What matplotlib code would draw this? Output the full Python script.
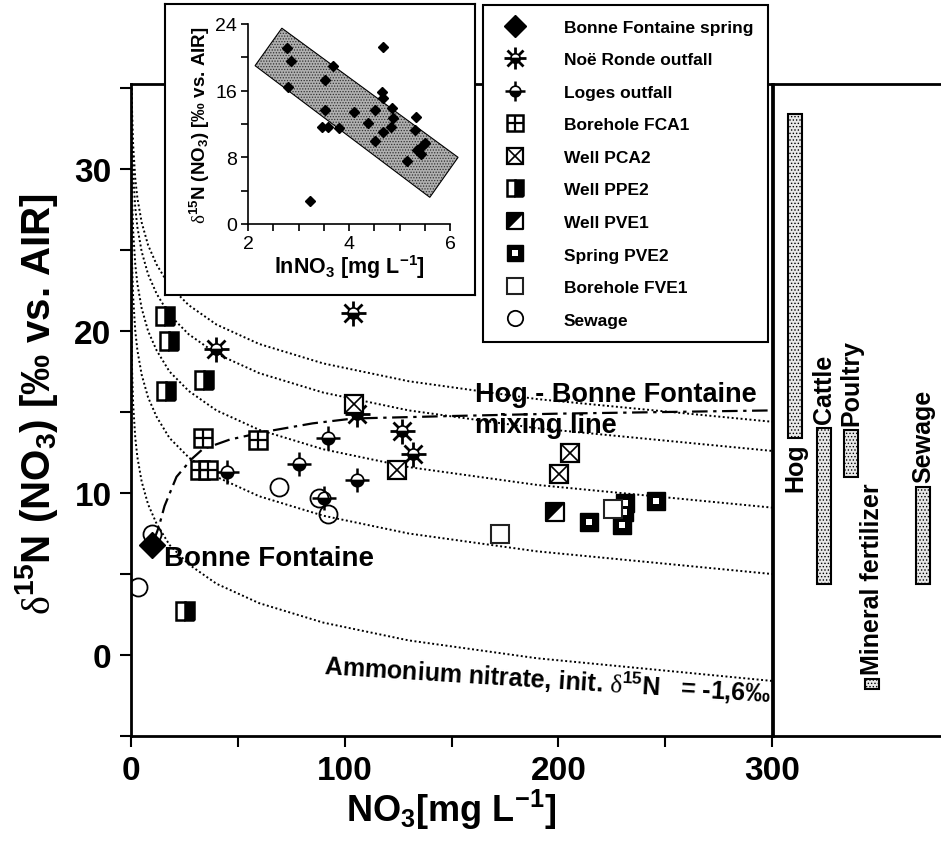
import matplotlib
matplotlib.use("Agg")
import matplotlib.pyplot as plt
from matplotlib.path import Path
from matplotlib.patches import Polygon
from matplotlib.legend_handler import HandlerTuple
from matplotlib.ticker import MultipleLocator, FixedLocator

plt.rcParams['font.family'] = ['Liberation Sans', 'DejaVu Sans']
plt.rcParams['mathtext.fontset'] = 'custom'
plt.rcParams['mathtext.rm'] = 'Liberation Serif'
plt.rcParams['mathtext.default'] = 'regular'
plt.rcParams['hatch.linewidth'] = 0.6

# ---- main plot data: NO3 [mg/L] vs d15N [permil]
bf_no3 = [9.6]
bf_d15n = [6.8]
noe_no3 = [40, 104, 106, 127, 132]
noe_d15n = [18.9, 21.1, 14.9, 13.8, 12.4]
loges_no3 = [45, 78.5, 92.3, 106, 90.4]
loges_d15n = [11.3, 11.8, 13.4, 10.8, 9.7]
fca1_no3 = [33.9, 59.6, 32.1, 35.9]
fca1_d15n = [13.4, 13.3, 11.4, 11.4]
pca2_no3 = [104.5, 124.5, 205.6, 200.4]
pca2_d15n = [15.5, 11.4, 12.5, 11.2]
ppe2_no3 = [16.0, 17.6, 16.2, 34.1, 25.4]
ppe2_d15n = [20.9, 19.4, 16.3, 17.0, 2.7]
pve1_no3 = [198.5]
pve1_d15n = [8.8]
pve2_no3 = [214.2, 231.4, 229.8, 245.7, 230.9]
pve2_d15n = [8.2, 9.4, 8.0, 9.5, 8.8]
fve1_no3 = [172.8, 225.4]
fve1_d15n = [7.5, 9.0]
sew_no3 = [69.3, 87.9, 92.3, 9.8, 3.2]
sew_d15n = [10.4, 9.7, 8.7, 7.5, 4.2]

# dotted denitrification curves, read along the same NO3 positions
curve_no3 = [0.001, 0.01, 0.05, 0.2, 0.5, 1, 2, 3, 5, 8, 12, 18, 27, 40, 60, 90, 130, 190, 300]
curve_a = [52.2, 45.3, 40.5, 36.3, 33.6, 31.5, 29.4, 28.2, 26.7, 25.3, 24.1, 22.8, 21.6, 20.4, 19.2, 18.0, 16.9, 15.8, 14.4]
curve_b = [50.4, 43.5, 38.7, 34.5, 31.8, 29.7, 27.6, 26.4, 24.9, 23.5, 22.3, 21.0, 19.8, 18.6, 17.4, 16.2, 15.1, 14.0, 12.6]
curve_c = [46.9, 40.0, 35.2, 31.0, 28.3, 26.2, 24.1, 22.9, 21.4, 20.0, 18.8, 17.5, 16.3, 15.1, 13.9, 12.7, 11.6, 10.5, 9.1]
curve_d = [42.8, 35.9, 31.1, 26.9, 24.2, 22.1, 20.0, 18.8, 17.3, 15.9, 14.7, 13.4, 12.2, 11.0, 9.8, 8.6, 7.5, 6.4, 5.0]
curve_amm = [36.2, 29.3, 24.5, 20.3, 17.6, 15.5, 13.4, 12.2, 10.7, 9.3, 8.1, 6.8, 5.6, 4.4, 3.2, 2.0, 0.9, -0.2, -1.6]

# Hog - Bonne Fontaine mixing line
mix_no3 = [10.5, 13.0, 15.7, 21.3, 28.4, 33.5, 46.2, 63.5, 85, 104, 149, 200, 250, 300]
mix_d15n = [7.0, 7.9, 9.2, 11.0, 12.1, 12.7, 13.3, 13.8, 14.3, 14.6, 14.75, 14.9, 15.0, 15.1]

# source ranges (right panel)
src_names = ['Hog', 'Cattle', 'Poultry', 'Mineral fertilizer', 'Sewage']
src_low = [13.4, 4.4, 11.0, -2.1, 4.4]
src_high = [33.4, 14.0, 13.9, -1.5, 10.4]

# inset: ln NO3 vs d15N
ln_no3 = [2.77, 2.86, 2.79, 3.68, 3.52, 3.52, 3.46, 3.59, 3.81, 4.09, 3.23, 4.37, 4.51, 4.51,
          4.67, 4.65, 4.67, 4.86, 4.88, 4.83, 4.67, 5.33, 5.31, 5.14, 5.34, 5.46, 5.50, 5.42]
ln_d15n = [21.1, 19.6, 16.5, 19.0, 17.3, 13.7, 11.6, 11.7, 11.5, 13.5, 2.8, 12.1, 13.7, 10.0,
           21.2, 15.8, 15.1, 13.9, 12.7, 11.7, 11.0, 12.8, 11.3, 7.6, 8.9, 9.5, 9.7, 8.4]
band_ln = [2.14, 2.67, 6.16, 5.60]
band_d15n = [19.0, 23.5, 8.0, 3.2]

W, H = 941, 854


def px_rect(l, t, r, b):
    return [l / W, 1 - b / H, (r - l) / W, (b - t) / H]


fig = plt.figure(figsize=(W / 100, H / 100), dpi=100)

# ---------------- main axes
ax = fig.add_axes(px_rect(131, 85, 772, 737))
ax.set_xlim(0, 300)
ax.set_ylim(-5, 35.25)
for s in ax.spines.values():
    s.set_linewidth(2)
ax.xaxis.set_major_locator(FixedLocator([0, 100, 200, 300]))
ax.xaxis.set_minor_locator(FixedLocator([50, 150, 250]))
ax.yaxis.set_major_locator(FixedLocator([0, 10, 20, 30]))
ax.yaxis.set_minor_locator(FixedLocator([-5, 5, 15, 25, 35]))
ax.tick_params(which='both', direction='out', length=8, width=1.5, top=False, right=False)
ax.tick_params(axis='both', labelsize=24, pad=6)
for lab in ax.get_xticklabels() + ax.get_yticklabels():
    lab.set_fontweight('bold')

ax.set_xlabel('NO$_3$[mg L$^{-1}$]', fontsize=26, fontweight='bold')
ax.xaxis.set_label_coords(0.5, -0.078)
ax.set_ylabel(r'$\mathrm{\delta}^{15}$N (NO$_3$) [‰ vs. AIR]', fontsize=29, fontweight='bold')
ax.yaxis.set_label_coords(-0.11, 0.51)

dot = (0, (1, 1.3))
for cy in [curve_a, curve_b, curve_c, curve_d, curve_amm]:
    ax.plot(curve_no3, cy, color='k', lw=1.4, ls=dot, zorder=2)
ax.plot(mix_no3, mix_d15n, color='k', lw=1.6, ls=(0, (7, 2.5, 1.5, 2.5)), zorder=2)

ms = 13
kw = dict(ls='none', color='k', zorder=4)
h_bf = ax.plot(bf_no3, bf_d15n, marker='D', ms=13, mfc='k', mec='k', **kw)[0]

h_noe = (ax.plot(noe_no3, noe_d15n, marker='+', ms=18, mew=2, **kw)[0],
         ax.plot(noe_no3, noe_d15n, marker='x', ms=13, mew=2, **kw)[0],
         ax.plot(noe_no3, noe_d15n, marker='o', ms=8, mew=1.2, mfc='k', mec='k',
                 markerfacecoloralt='w', fillstyle='bottom', **kw)[0])

h_loges = (ax.plot(loges_no3, loges_d15n, marker='+', ms=17, mew=1.8, **kw)[0],
           ax.plot(loges_no3, loges_d15n, marker='o', ms=9, mew=1.2, mfc='k', mec='k',
                   markerfacecoloralt='w', fillstyle='bottom', **kw)[0])

h_fca1 = (ax.plot(fca1_no3, fca1_d15n, marker='s', ms=ms, mew=1.8, mfc='w', mec='k', **kw)[0],
          ax.plot(fca1_no3, fca1_d15n, marker='+', ms=ms, mew=1.6, **kw)[0])

h_pca2 = (ax.plot(pca2_no3, pca2_d15n, marker='s', ms=ms, mew=1.6, mfc='w', mec='k', **kw)[0],
          ax.plot(pca2_no3, pca2_d15n, marker='x', ms=ms, mew=1.2, **kw)[0])

h_ppe2 = ax.plot(ppe2_no3, ppe2_d15n, marker='s', ms=ms, mew=1.8, mfc='k', mec='k',
                 markerfacecoloralt='w', fillstyle='right', **kw)[0]

sq_path = Path([(-1, -1), (1, -1), (1, 1), (-1, 1), (-1, -1)], closed=True)
tri_path = Path([(-1, -1), (-1, 1), (1, 1), (-1, -1)], closed=True)
h_pve1 = (ax.plot(pve1_no3, pve1_d15n, marker=sq_path, ms=ms, mew=1.6, mfc='w', mec='k', **kw)[0],
          ax.plot(pve1_no3, pve1_d15n, marker=tri_path, ms=ms, mew=1.2, mfc='k', mec='k', **kw)[0])

h_pve2 = (ax.plot(pve2_no3, pve2_d15n, marker='s', ms=ms, mew=1, mfc='k', mec='k', **kw)[0],
          ax.plot(pve2_no3, pve2_d15n, marker='s', ms=5, mew=0, mfc='w', mec='w', **kw)[0])

h_fve1 = ax.plot(fve1_no3, fve1_d15n, marker='s', ms=ms, mew=1.5, mfc='w', mec='#222222', **kw)[0]
h_sew = ax.plot(sew_no3, sew_d15n, marker='o', ms=ms, mew=1.3, mfc='none', mec='k', **kw)[0]

# annotations
ax.text(15.5, 6.0, 'Bonne Fontaine', fontsize=20, fontweight='bold', ha='left', va='center', zorder=5)
ax.text(161, 16.1, 'Hog - Bonne Fontaine', fontsize=19.5, fontweight='bold', ha='left', va='center', zorder=5)
ax.text(161, 14.2, 'mixing line', fontsize=19.5, fontweight='bold', ha='left', va='center', zorder=5)
ax.text(90.5, -0.6, r'Ammonium nitrate, init. $\mathrm{\delta}^{15}$N   = -1,6‰', fontsize=18,
        fontweight='bold', ha='left', va='center', rotation=-3.6, rotation_mode='anchor', zorder=5)

# ---------------- right panel: source ranges
ax2 = fig.add_axes(px_rect(773, 85, 941, 737))
ax2.set_xlim(773, 941)
ax2.set_ylim(-5, 35.25)
ax2.set_xticks([])
ax2.set_yticks([])
for s in ax2.spines.values():
    s.set_linewidth(2)
ax2.spines['right'].set_visible(False)
src_x = [795, 824, 851, 872, 923]
for i, name in enumerate(src_names):
    ax2.bar(src_x[i], src_high[i] - src_low[i], bottom=src_low[i], width=14,
            facecolor='#e8e8e8', edgecolor='k', lw=1.5, hatch='.....')
    if name == 'Hog':
        ax2.text(src_x[i], src_low[i] - 0.3, name, rotation=90, ha='center', va='top',
                 fontsize=18, fontweight='bold')
    else:
        ax2.text(src_x[i], src_high[i] + 0.3, name, rotation=90, ha='center', va='bottom',
                 fontsize=18, fontweight='bold')

# ---------------- inset
frame = fig.add_axes(px_rect(165, 5, 475, 296), zorder=5)
frame.set_xticks([])
frame.set_yticks([])
frame.set_facecolor('w')
for s in frame.spines.values():
    s.set_linewidth(1.5)

ins = fig.add_axes(px_rect(248, 25, 450, 225), zorder=6)
ins.patch.set_alpha(0)
ins.set_xlim(2, 6)
ins.set_ylim(0, 24)
ins.spines['top'].set_visible(False)
ins.spines['right'].set_visible(False)
for s in ['left', 'bottom']:
    ins.spines[s].set_linewidth(1.2)
ins.xaxis.set_major_locator(FixedLocator([2, 4, 6]))
ins.xaxis.set_minor_locator(MultipleLocator(0.5))
ins.yaxis.set_major_locator(FixedLocator([0, 8, 16, 24]))
ins.yaxis.set_minor_locator(MultipleLocator(4))
ins.tick_params(which='both', direction='out', length=5, width=1.2, labelsize=14, pad=3)
ins.set_xlabel('lnNO$_3$ [mg L$^{-1}$]', fontsize=15.5, fontweight='bold', labelpad=0)
ins.set_ylabel(r'$\mathrm{\delta}^{15}$N (NO$_3$) [‰ vs. AIR]', fontsize=13.5, fontweight='bold', labelpad=2)

band = Polygon(list(zip(band_ln, band_d15n)), closed=True, facecolor='#b0b0b0',
               edgecolor='#333333', hatch='......', lw=0, clip_on=False, zorder=1)
ins.add_patch(band)
ins.add_patch(Polygon(list(zip(band_ln, band_d15n)), closed=True, facecolor='none',
                      edgecolor='k', lw=0.8, clip_on=False, zorder=2))
ins.plot(ln_no3, ln_d15n, 'D', ms=5.5, color='k', zorder=3, clip_on=False)

# ---------------- legend
handles = [h_bf, h_noe, h_loges, h_fca1, h_pca2, h_ppe2, h_pve1, h_pve2, h_fve1, h_sew]
labels = ['Bonne Fontaine spring', 'Noë Ronde outfall', 'Loges outfall', 'Borehole FCA1',
          'Well PCA2', 'Well PPE2', 'Well PVE1', 'Spring PVE2', 'Borehole FVE1', 'Sewage']
leg = fig.legend(handles, labels, handler_map={tuple: HandlerTuple(ndivide=1)},
                 loc='upper left', bbox_to_anchor=(483 / W, 1 - 6 / H),
                 prop={'size': 12.5, 'weight': 'bold'}, markerscale=0.85,
                 frameon=True, fancybox=False, framealpha=1, edgecolor='k',
                 borderpad=0.85, labelspacing=1.0, handlelength=2.0, handletextpad=1.8,
                 borderaxespad=0)
leg.get_frame().set_linewidth(1.5)
leg.set_zorder(10)

fig.savefig('out.png', dpi=100)
